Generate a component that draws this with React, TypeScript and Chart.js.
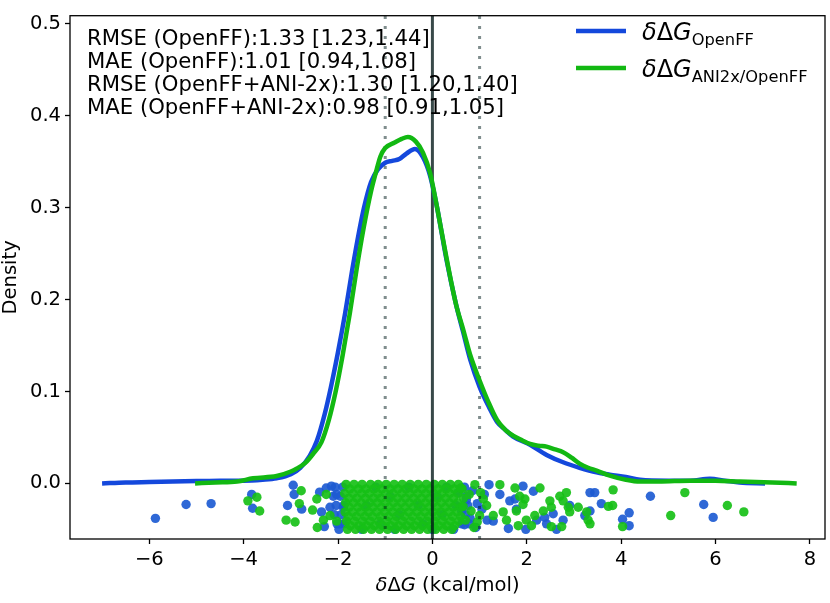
import React, { useEffect, useRef } from "react";
import { Chart, registerables } from "chart.js";
Chart.register(...registerables);

const FAMILY = "'DejaVu Sans', sans-serif";
const X_MIN = -7.68;
const X_MAX = 8.32;
const Y_MIN = -0.0605;
const Y_MAX = 0.509;

const xTickValues = [-6, -4, -2, 0, 2, 4, 6, 8];
const yTickValues = [0, 0.1, 0.2, 0.3, 0.4, 0.5];
const refSolidX = [0];
const refDottedX = [-1, 1];

const statLines = [
  "RMSE (OpenFF):1.33 [1.23,1.44]",
  "MAE (OpenFF):1.01 [0.94,1.08]",
  "RMSE (OpenFF+ANI-2x):1.30 [1.20,1.40]",
  "MAE (OpenFF+ANI-2x):0.98 [0.91,1.05]",
];
const legendSubs = ["OpenFF", "ANI2x/OpenFF"];

const BLUE = "#1448dc";
const GREEN = "#12b812";
const BLUE_PT = "rgba(29,91,211,0.92)";
const GREEN_PT = "rgba(23,192,23,0.92)";

// KDE curves
const blueKdeX = [-7.0, -6.5, -6.0, -5.5, -5.0, -4.5, -4.0, -3.6, -3.3, -3.0, -2.8, -2.6, -2.45, -2.28, -2.15, -2.0, -1.85, -1.7, -1.55, -1.45, -1.3, -1.15, -1.0, -0.85, -0.7, -0.55, -0.37, -0.2, -0.05, 0.1, 0.3, 0.5, 0.65, 0.8, 1.0, 1.2, 1.37, 1.55, 1.71, 2.07, 2.42, 2.77, 3.12, 3.48, 3.76, 4.1, 4.4, 5.0, 5.46, 5.88, 6.2, 6.51, 7.05];
const blueKdeY = [0.0, 0.001, 0.0015, 0.002, 0.0025, 0.003, 0.003, 0.004, 0.0056, 0.01, 0.017, 0.03, 0.046, 0.076, 0.105, 0.143, 0.185, 0.232, 0.275, 0.3, 0.328, 0.342, 0.349, 0.351, 0.353, 0.359, 0.364, 0.355, 0.335, 0.3, 0.243, 0.195, 0.165, 0.135, 0.105, 0.083, 0.067, 0.058, 0.051, 0.042, 0.031, 0.023, 0.017, 0.012, 0.0095, 0.007, 0.004, 0.003, 0.003, 0.005, 0.003, 0.001, 0.0];

const greenKdeX = [-5.03, -4.6, -4.14, -3.8, -3.3, -3.0, -2.88, -2.7, -2.53, -2.35, -2.2, -2.05, -1.9, -1.75, -1.6, -1.45, -1.3, -1.2, -1.1, -1.0, -0.8, -0.65, -0.52, -0.35, -0.2, -0.05, 0.1, 0.3, 0.5, 0.65, 0.8, 1.0, 1.2, 1.37, 1.55, 1.71, 1.9, 2.07, 2.25, 2.42, 2.6, 2.77, 2.95, 3.12, 3.3, 3.48, 3.76, 4.1, 4.4, 4.8, 5.46, 6.0, 6.51, 7.2, 7.72];
const greenKdeY = [0.0, 0.001, 0.002, 0.0056, 0.008, 0.013, 0.016, 0.022, 0.032, 0.045, 0.068, 0.1, 0.14, 0.185, 0.235, 0.28, 0.318, 0.338, 0.356, 0.365, 0.371, 0.375, 0.377, 0.372, 0.36, 0.338, 0.3, 0.245, 0.195, 0.168, 0.14, 0.112, 0.087, 0.069, 0.058, 0.052, 0.047, 0.043, 0.041, 0.04, 0.037, 0.034, 0.028, 0.0215, 0.017, 0.014, 0.0085, 0.004, 0.002, 0.002, 0.003, 0.003, 0.002, 0.001, 0.0];

// Strip (jitter) points outside the dense block
const blueScatter: [number, number][] = [
  [-5.87, -0.038], [-5.22, -0.023], [-4.69, -0.022], [-3.83, -0.012], [-3.81, -0.027],
  [-2.95, -0.002], [-2.93, -0.012], [-3.07, -0.024], [-2.77, -0.028], [-2.29, -0.047],
  [-2.35, -0.031], [-2.17, -0.026], [-2.39, -0.0095], [-2.25, -0.005], [-2.14, -0.003],
  [-2.03, -0.012], [-1.96, -0.044], [-1.89, -0.026],
  [1.2, -0.0014], [1.16, -0.04], [1.29, -0.041], [1.43, -0.012], [1.61, -0.049],
  [1.64, -0.019], [1.75, -0.017], [1.78, -0.028], [1.92, -0.003], [1.98, -0.05],
  [2.14, -0.0085], [2.21, -0.04], [2.38, -0.037], [2.42, -0.044], [2.56, -0.033],
  [2.63, -0.05], [2.77, -0.04], [2.91, -0.024], [3.23, -0.035], [3.34, -0.01],
  [3.44, -0.01], [3.34, -0.03], [3.58, -0.022], [4.03, -0.039], [4.17, -0.032],
  [4.17, -0.046], [4.62, -0.014], [5.75, -0.023], [5.95, -0.037],
  [0.55, -0.01], [0.62, -0.03], [0.68, -0.045], [0.72, -0.018], [0.8, -0.038],
  [0.85, -0.008], [0.92, -0.048], [1.05, -0.028], [1.1, -0.012], [0.95, -0.022],
];
const greenScatter: [number, number][] = [
  [-3.72, -0.015], [-3.91, -0.019], [-3.66, -0.03], [-2.78, -0.008], [-2.82, -0.022],
  [-3.1, -0.04], [-2.91, -0.042], [-2.44, -0.048], [-2.45, -0.017], [-2.54, -0.029],
  [-2.31, -0.04], [-2.25, -0.012], [-2.03, -0.041], [-2.17, -0.035],
  [0.9, -0.0014], [1.08, -0.017], [1.15, -0.024], [1.29, -0.035], [1.43, -0.0014],
  [1.5, -0.031], [1.57, -0.04], [1.75, -0.005], [1.78, -0.03], [1.85, -0.014],
  [1.92, -0.023], [1.96, -0.017], [1.99, -0.04], [1.82, -0.046], [2.1, -0.046],
  [2.17, -0.035], [2.28, -0.005], [2.35, -0.03], [2.49, -0.019], [2.52, -0.026],
  [2.52, -0.047], [2.7, -0.014], [2.74, -0.047], [2.77, -0.019], [2.84, -0.01],
  [2.88, -0.026], [2.91, -0.031], [3.09, -0.026], [3.27, -0.031], [3.3, -0.04],
  [3.34, -0.044], [3.83, -0.007], [3.73, -0.025], [3.82, -0.024], [4.03, -0.047],
  [5.05, -0.035], [5.35, -0.01], [6.25, -0.024], [6.6, -0.031],
  [0.6, -0.005], [0.65, -0.025], [0.7, -0.04], [0.78, -0.012], [0.82, -0.03],
  [0.88, -0.048], [1.0, -0.035], [1.02, -0.01], [0.95, -0.042],
];

// Dense block of strip points near zero (rows of jitter values)
const blueBlobY = [-0.004, -0.014, -0.024, -0.034, -0.044, -0.05];
const blueBlobX = [
  [-2.06, -1.9, -1.2, -0.5, 0.3, 0.68],
  [-2.1, -1.95, -0.9, 0.1, 0.72],
  [-2.04, -1.88, -1.4, -0.3, 0.5, 0.75],
  [-2.08, -1.93, -0.7, 0.2, 0.7],
  [-2.02, -1.87, -1.1, -0.2, 0.62, 0.78],
  [-1.98, -1.5, -0.8, 0.0, 0.45],
];
const greenBlobY = [-0.001, -0.006, -0.011, -0.016, -0.021, -0.026, -0.031, -0.036, -0.041, -0.046, -0.05];
const greenBlobX = [
  [-1.83, -1.66, -1.49, -1.31, -1.15, -0.98, -0.81, -0.64, -0.47, -0.3, -0.13, 0.04, 0.21, 0.38, 0.55],
  [-1.75, -1.57, -1.41, -1.24, -1.07, -0.9, -0.73, -0.56, -0.39, -0.22, -0.05, 0.12, 0.29, 0.46, 0.63],
  [-1.86, -1.68, -1.5, -1.34, -1.16, -0.99, -0.83, -0.65, -0.48, -0.31, -0.14, 0.03, 0.2, 0.37, 0.54],
  [-1.77, -1.6, -1.42, -1.25, -1.09, -0.91, -0.74, -0.57, -0.4, -0.23, -0.06, 0.11, 0.28, 0.45, 0.66],
  [-1.84, -1.67, -1.51, -1.33, -1.17, -1.0, -0.82, -0.66, -0.49, -0.32, -0.15, 0.02, 0.19, 0.36, 0.53],
  [-1.76, -1.58, -1.42, -1.26, -1.08, -0.92, -0.75, -0.58, -0.41, -0.24, -0.07, 0.1, 0.27, 0.44, 0.61],
  [-1.85, -1.69, -1.52, -1.35, -1.18, -1.01, -0.84, -0.67, -0.5, -0.33, -0.16, 0.01, 0.18, 0.35, 0.52],
  [-1.78, -1.61, -1.43, -1.27, -1.1, -0.93, -0.76, -0.59, -0.42, -0.25, -0.08, 0.09, 0.26, 0.43, 0.6],
  [-1.82, -1.65, -1.48, -1.32, -1.14, -0.97, -0.8, -0.63, -0.46, -0.29, -0.12, 0.05, 0.22, 0.39, 0.56],
  [-1.74, -1.56, -1.4, -1.23, -1.06, -0.89, -0.72, -0.55, -0.38, -0.21, -0.04, 0.13, 0.3, 0.47],
  [-1.8, -1.63, -1.46, -1.29, -1.12, -0.95, -0.78, -0.61, -0.44, -0.27, -0.1, 0.07, 0.24, 0.41],
];

const toPts = (xs: number[], ys: number[]) => xs.map((x, i) => ({ x, y: ys[i] }));
const pairPts = (arr: [number, number][]) => arr.map(([x, y]) => ({ x, y }));
const rowPts = (rowsY: number[], rowsX: number[][]) =>
  rowsY.flatMap((y, r) => rowsX[r].map((x) => ({ x, y })));

type Seg = { t: string; font: string; dy?: number };
function drawSegs(ctx: CanvasRenderingContext2D, segs: Seg[], x: number, y: number, align: "left" | "center") {
  let total = 0;
  const widths = segs.map((s) => {
    ctx.font = s.font;
    const w = ctx.measureText(s.t).width;
    total += w;
    return w;
  });
  let cx = align === "center" ? x - total / 2 : x;
  segs.forEach((s, i) => {
    ctx.font = s.font;
    ctx.fillText(s.t, cx, y + (s.dy || 0));
    cx += widths[i];
  });
}

const decorPlugin = {
  id: "decor",
  afterDatasetsDraw(chart: any) {
    const { ctx, chartArea } = chart;
    const { left, right, top, bottom } = chartArea;
    ctx.save();
    ctx.strokeStyle = "#000";
    ctx.lineWidth = 1.3;
    ctx.strokeRect(left, top, right - left, bottom - top);

    ctx.fillStyle = "#000";
    ctx.textAlign = "left";
    ctx.textBaseline = "alphabetic";
    ctx.font = `21.2px ${FAMILY}`;
    statLines.forEach((s, i) => ctx.fillText(s, left + 17, 45 + i * 23));

    // legend
    const colors = [BLUE, GREEN];
    legendSubs.forEach((sub, i) => {
      const ly = 31 + i * 37;
      ctx.strokeStyle = colors[i];
      ctx.lineWidth = 4.5;
      ctx.beginPath();
      ctx.moveTo(576, ly);
      ctx.lineTo(626, ly);
      ctx.stroke();
      drawSegs(ctx, [
        { t: "δ", font: `italic 24px ${FAMILY}` },
        { t: "Δ", font: `24px ${FAMILY}` },
        { t: "G", font: `italic 24px ${FAMILY}` },
        { t: sub, font: `16.3px ${FAMILY}`, dy: 5 },
      ], 642, ly + 9, "left");
    });

    // axis titles
    const cxm = (left + right) / 2;
    drawSegs(ctx, [
      { t: "δ", font: `italic 19.5px ${FAMILY}` },
      { t: "Δ", font: `19.5px ${FAMILY}` },
      { t: "G", font: `italic 19.5px ${FAMILY}` },
      { t: " (kcal/mol)", font: `19.5px ${FAMILY}` },
    ], cxm, 591, "center");

    ctx.save();
    ctx.translate(16, (top + bottom) / 2);
    ctx.rotate(-Math.PI / 2);
    ctx.textAlign = "center";
    ctx.font = `19.5px ${FAMILY}`;
    ctx.fillText("Density", 0, 0);
    ctx.restore();
    ctx.restore();
  },
};

const fmtX = (v: number) => (v < 0 ? "\u2212" + Math.abs(v) : String(v));

export default function App() {
  const ref = useRef<HTMLCanvasElement | null>(null);
  useEffect(() => {
    if (!ref.current) return;
    const refLine = (x: number) => [{ x, y: Y_MIN }, { x, y: Y_MAX }];
    const R = 4.7;
    const chart = new Chart(ref.current, {
      type: "scatter",
      data: {
        datasets: [
          { data: rowPts(blueBlobY, blueBlobX), backgroundColor: BLUE_PT, pointRadius: R, borderWidth: 0, order: 7 } as any,
          { data: pairPts(blueScatter), backgroundColor: BLUE_PT, pointRadius: R, borderWidth: 0, order: 6 } as any,
          { data: rowPts(greenBlobY, greenBlobX), backgroundColor: GREEN_PT, pointRadius: R, borderWidth: 0, order: 5 } as any,
          { data: pairPts(greenScatter), backgroundColor: GREEN_PT, pointRadius: R, borderWidth: 0, order: 4 } as any,
          ...refDottedX.map((v) => ({
            data: refLine(v), showLine: true, borderColor: "rgba(0,28,28,0.5)", borderWidth: 3,
            borderDash: [3, 7], borderCapStyle: "butt", pointRadius: 0, order: 3,
          } as any)),
          ...refSolidX.map((v) => ({
            data: refLine(v), showLine: true, borderColor: "rgba(0,22,22,0.78)", borderWidth: 3,
            pointRadius: 0, order: 3,
          } as any)),
          { data: toPts(blueKdeX, blueKdeY), showLine: true, borderColor: BLUE, borderWidth: 4.5, pointRadius: 0, cubicInterpolationMode: "monotone", order: 2 } as any,
          { data: toPts(greenKdeX, greenKdeY), showLine: true, borderColor: GREEN, borderWidth: 4.5, pointRadius: 0, cubicInterpolationMode: "monotone", order: 1 } as any,
        ],
      },
      options: {
        responsive: false,
        animation: false,
        events: [],
        layout: { padding: { left: 0, right: 5, top: 2, bottom: 0 } },
        plugins: { legend: { display: false }, tooltip: { enabled: false } },
        scales: {
          x: {
            type: "linear",
            min: X_MIN,
            max: X_MAX,
            afterBuildTicks: (s: any) => { s.ticks = xTickValues.map((v) => ({ value: v })); },
            afterFit: (s: any) => { s.height = 64; },
            ticks: { callback: (v: any) => fmtX(Number(v)), color: "#000", padding: 4, maxRotation: 0, font: { family: FAMILY, size: 19.5 } },
            grid: { drawOnChartArea: false, drawTicks: true, tickLength: 5, tickWidth: 1.3, tickColor: "#000" },
            border: { display: false },
          },
          y: {
            type: "linear",
            min: Y_MIN,
            max: Y_MAX,
            afterBuildTicks: (s: any) => { s.ticks = yTickValues.map((v) => ({ value: v })); },
            afterFit: (s: any) => { s.width = 70; },
            ticks: { callback: (v: any) => Number(v).toFixed(1), color: "#000", padding: 4, font: { family: FAMILY, size: 19.5 } },
            grid: { drawOnChartArea: false, drawTicks: true, tickLength: 5, tickWidth: 1.3, tickColor: "#000" },
            border: { display: false },
          },
        },
      } as any,
      plugins: [decorPlugin],
    });
    return () => chart.destroy();
  }, []);
  return (
    <div style={{ position: "fixed", left: 0, top: 0, width: 830, height: 603, background: "#fff" }}>
      <canvas ref={ref} width={830} height={603} style={{ display: "block", width: 830, height: 603 }} />
    </div>
  );
}
